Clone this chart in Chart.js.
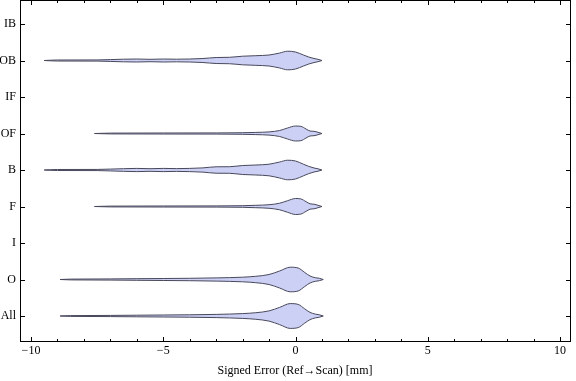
<!DOCTYPE html>
<html>
<head>
<meta charset="utf-8">
<script src="https://cdn.jsdelivr.net/npm/chart.js@4"></script>
<style>
  html, body { margin: 0; padding: 0; background: #fff; }
  #c { display: block; }
</style>
</head>
<body>
<canvas id="c" width="576" height="381"></canvas>
<script>
// Categories, bottom (index 0) to top (index 8)
const categories = ['All', 'O', 'I', 'F', 'B', 'OF', 'IF', 'OB', 'IB'];
const xTickValues = [-10, -5, 0, 5, 10];
const xTitle = 'Signed Error (Ref\u2192Scan) [mm]';

// Violin outlines: error values (mm) and half-widths (in category units)
const allX = [-8.9, -8.5, -7, -6, -5, -4, -3, -2, -1.5, -1, -0.6, -0.2, 0.1, 0.35, 0.55, 0.75, 0.9, 1.05];
const allW = [0, .011, .016, .022, .027, .033, .044, .066, .090, .140, .236, .340, .318, .195, .099, .052, .033, 0];

const oX = [-8.9, -8.5, -7, -6, -5, -4, -3, -2, -1.5, -1, -0.6, -0.2, 0.1, 0.35, 0.55, 0.75, 0.9, 1.05];
const oW = [0, .011, .016, .022, .027, .033, .044, .063, .088, .137, .233, .337, .315, .192, .096, .049, .033, 0];

const fX = [-7.6, -7.0, -5.0, -3.0, -2.0, -1.5, -1.0, -0.6, -0.3, 0.0, 0.2, 0.4, 0.55, 0.7, 0.85, 1.0];
const fW = [0, .011, .014, .016, .022, .033, .049, .090, .159, .219, .208, .132, .074, .063, .033, 0];

const bX = [-9.5, -9.0, -7.5, -7.0, -6.5, -6.0, -5.5, -5.0, -4.5, -4.0, -3.5, -3.0, -2.5, -2.0, -1.5, -1.0, -0.6, -0.3, 0.0, 0.3, 0.5, 0.7, 0.85, 1.0];
const bW = [0, .014, .016, .025, .036, .044, .036, .044, .038, .044, .058, .088, .090, .123, .137, .159, .219, .268, .247, .159, .099, .055, .033, 0];

const ofX = [-7.6, -7.0, -5.0, -3.0, -2.0, -1.5, -1.0, -0.6, -0.3, 0.0, 0.2, 0.4, 0.55, 0.7, 0.85, 1.0];
const ofW = [0, .011, .014, .016, .022, .030, .044, .082, .151, .205, .197, .123, .068, .060, .033, 0];

const obX = [-9.5, -9.0, -7.5, -7.0, -6.5, -6.0, -5.5, -5.0, -4.5, -4.0, -3.5, -3.0, -2.5, -2.0, -1.5, -1.0, -0.6, -0.3, 0.0, 0.3, 0.5, 0.7, 0.85, 1.0];
const obW = [0, .014, .016, .025, .036, .041, .033, .041, .036, .041, .055, .082, .088, .118, .132, .151, .205, .255, .233, .151, .096, .055, .033, 0];

const violins = [
  { cat: 'All', xs: allX, ws: allW },
  { cat: 'O',   xs: oX,   ws: oW },
  { cat: 'F',   xs: fX,   ws: fW },
  { cat: 'B',   xs: bX,   ws: bW },
  { cat: 'OF',  xs: ofX,  ws: ofW },
  { cat: 'OB',  xs: obX,  ws: obW }
];

const FILL = 'rgb(203,208,244)';
const EDGE = 'rgb(72,72,92)';

const datasets = [];
violins.forEach(v => {
  const c = categories.indexOf(v.cat);
  const common = {
    borderColor: EDGE, borderWidth: 1, backgroundColor: FILL,
    pointRadius: 0, pointHoverRadius: 0, cubicInterpolationMode: 'monotone'
  };
  datasets.push(Object.assign({}, common, {
    label: v.cat + ' upper',
    data: v.xs.map((x, i) => ({ x: x, y: c + v.ws[i] })),
    fill: false
  }));
  datasets.push(Object.assign({}, common, {
    label: v.cat + ' lower',
    data: v.xs.map((x, i) => ({ x: x, y: c - v.ws[i] })),
    fill: '-1'
  }));
});

const serif = 'Liberation Serif, Times New Roman, serif';

const framePlugin = {
  id: 'frame',
  afterDraw(chart) {
    const { ctx, chartArea: a, scales: { x, y } } = chart;
    ctx.save();
    ctx.strokeStyle = '#000';
    ctx.lineWidth = 1;
    ctx.strokeRect(a.left + 0.5, a.top + 0.5, a.right - a.left, a.bottom - a.top);
    ctx.beginPath();
    // x ticks (every unit, longer at multiples of 5), top and bottom, inward
    for (let v = -10; v <= 10; v++) {
      const px = Math.round(x.getPixelForValue(v)) + 0.5;
      const len = (v % 5 === 0) ? 5 : 3;
      ctx.moveTo(px, a.bottom + 1); ctx.lineTo(px, a.bottom + 1 - len);
      ctx.moveTo(px, a.top); ctx.lineTo(px, a.top + len);
    }
    // y ticks at categories, left and right, inward
    categories.forEach((_, i) => {
      const py = Math.round(y.getPixelForValue(i)) + 0.5;
      ctx.moveTo(a.left, py); ctx.lineTo(a.left + 5, py);
      ctx.moveTo(a.right + 1, py); ctx.lineTo(a.right + 1 - 5, py);
    });
    ctx.stroke();
    ctx.restore();
  }
};

new Chart(document.getElementById('c'), {
  type: 'line',
  data: { datasets },
  options: {
    responsive: false,
    animation: false,
    devicePixelRatio: 1,
    layout: { padding: { top: 0, right: 6, left: 0, bottom: 0 } },
    plugins: { legend: { display: false }, tooltip: { enabled: false } },
    scales: {
      x: {
        type: 'linear',
        min: -10.416, max: 10.378,
        afterBuildTicks: s => { s.ticks = xTickValues.map(v => ({ value: v })); },
        afterFit: s => { s.height = 40; s.paddingLeft = 0; s.paddingRight = 0; },
        ticks: {
          color: '#000', padding: 3, maxRotation: 0, autoSkip: false,
          font: { family: serif, size: 12 },
          callback: v => (v < 0 ? '\u2212' + Math.abs(v) : String(v))
        },
        grid: { display: false, drawTicks: false },
        border: { display: false },
        title: {
          display: true, text: xTitle, color: '#000',
          font: { family: serif, size: 12 },
          padding: { top: 0, bottom: 3 }
        }
      },
      y: {
        type: 'linear',
        min: -0.685, max: 8.658,
        afterBuildTicks: s => { s.ticks = categories.map((_, i) => ({ value: i })); },
        afterFit: s => { s.width = 20; s.paddingTop = 0; s.paddingBottom = 0; },
        ticks: {
          color: '#000', padding: 4, autoSkip: false,
          font: { family: serif, size: 12 },
          callback: v => categories[v]
        },
        grid: { display: false, drawTicks: false },
        border: { display: false }
      }
    }
  },
  plugins: [framePlugin]
});
</script>
</body>
</html>
